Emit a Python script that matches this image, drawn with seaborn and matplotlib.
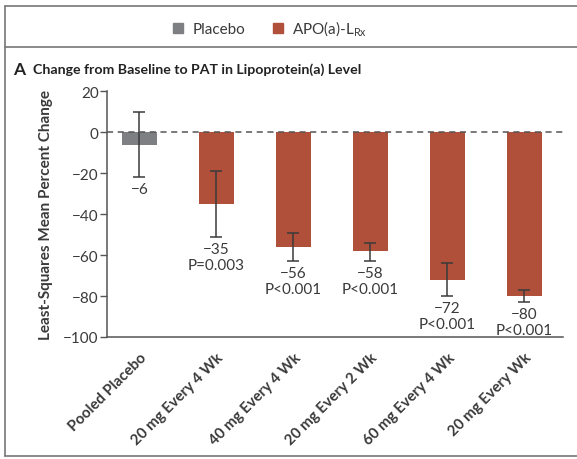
import seaborn as sns
import matplotlib.pyplot as plt
import matplotlib.lines as mlines
import matplotlib.patches as mpatches
import pandas as pd

# data
groups = ['Pooled Placebo', '20 mg Every 4 Wk', '40 mg Every 4 Wk',
          '20 mg Every 2 Wk', '60 mg Every 4 Wk', '20 mg Every Wk']
arm = ['Placebo', 'APO(a)-LRx', 'APO(a)-LRx', 'APO(a)-LRx', 'APO(a)-LRx', 'APO(a)-LRx']
ls_mean = [-6, -35, -56, -58, -72, -80]
ci_low = [-22, -51, -63, -63, -80, -83]
ci_high = [10, -19, -49, -54, -64, -77]
p_values = ['', 'P=0.003', 'P<0.001', 'P<0.001', 'P<0.001', 'P<0.001']
yticks = [20, 0, -20, -40, -60, -80, -100]

df = pd.DataFrame({'group': groups, 'arm': arm, 'change': ls_mean})

sns.set_style('white')
plt.rcParams['font.family'] = ['Lato', 'DejaVu Sans']
plt.rcParams['axes.unicode_minus'] = True

gray = '#7e7f83'
red = '#b0503a'
dark = '#3a3a3a'

fig = plt.figure(figsize=(5.77, 4.6), dpi=100)
ax = fig.add_axes([107 / 577, 1 - 338 / 460, (563 - 107) / 577, (338 - 92.4) / 460])

sns.barplot(data=df, x='group', y='change', hue='arm', dodge=False, width=0.45,
            palette={'Placebo': gray, 'APO(a)-LRx': red}, legend=False, ax=ax,
            linewidth=0, saturation=1)

xs = range(len(groups))
lower = [m - lo for m, lo in zip(ls_mean, ci_low)]
upper = [hi - m for m, hi in zip(ls_mean, ci_high)]
ax.errorbar(xs, ls_mean, yerr=[lower, upper], fmt='none', ecolor=dark,
            elinewidth=1.1, capsize=4, capthick=1.1, zorder=4)

ax.axhline(0, color='#555555', lw=1.1, ls=(0, (4, 3)), zorder=5)

for i, (m, lo, p) in enumerate(zip(ls_mean, ci_low, p_values)):
    txt = '\u2212%d' % abs(m)
    if p:
        txt += '\n' + p
    ax.annotate(txt, xy=(i, lo), xytext=(0, -3.5), textcoords='offset points',
                ha='center', va='top', fontsize=11, color=dark, linespacing=1.2)

ax.set_ylim(-100, 20)
ax.set_xlim(-0.42, 5.5)
ax.set_yticks(yticks)
ax.set_yticklabels([str(t).replace('-', '\u2212') for t in yticks])
ax.tick_params(axis='y', left=True, length=5, width=1, color='#555555',
               labelsize=11, labelcolor=dark, pad=1)
ax.tick_params(axis='x', bottom=False, pad=6)
ax.set_xticks(list(xs))
ax.set_xticklabels(groups, rotation=45, ha='right', rotation_mode='anchor',
                   fontsize=10.8, fontweight='bold', color=dark)
ax.set_xlabel('')
ax.set_ylabel('Least-Squares Mean Percent Change', fontsize=11,
              fontweight='bold', color=dark, labelpad=7)
sns.despine(ax=ax)
for s in ['left', 'bottom']:
    ax.spines[s].set_color('#555555')
    ax.spines[s].set_linewidth(1.1)

# outer frame and separator
frame = '#777777'
fig.add_artist(mlines.Line2D([5 / 577, 1], [1 - 7 / 460] * 2, color=frame, lw=1.2))
fig.add_artist(mlines.Line2D([5 / 577, 1], [1 - 48 / 460] * 2, color=frame, lw=1.2))
fig.add_artist(mlines.Line2D([5 / 577, 1], [1 - 457 / 460] * 2, color=frame, lw=1.2))
fig.add_artist(mlines.Line2D([5 / 577] * 2, [1 - 7 / 460, 1 - 457 / 460], color=frame, lw=1.2))

# legend
handles = [mpatches.Patch(color=gray, label='Placebo'),
           mpatches.Patch(color=red, label='APO(a)-L$_{\\mathregular{Rx}}$')]
fig.legend(handles=handles, loc='center', bbox_to_anchor=(270 / 577, 1 - 29 / 460),
           ncol=2, frameon=False, fontsize=11, handlelength=0.65, handleheight=0.65,
           handletextpad=0.6, columnspacing=1.8, labelcolor=dark)

# panel title
fig.text(13 / 577, 1 - 70 / 460, 'A', fontsize=12.5, fontweight='bold', color='#222222', va='center')
fig.text(33 / 577, 1 - 70 / 460, 'Change from Baseline to PAT in Lipoprotein(a) Level',
         fontsize=10.2, fontweight='bold', color='#222222', va='center')

fig.savefig('out.png', dpi=100)
